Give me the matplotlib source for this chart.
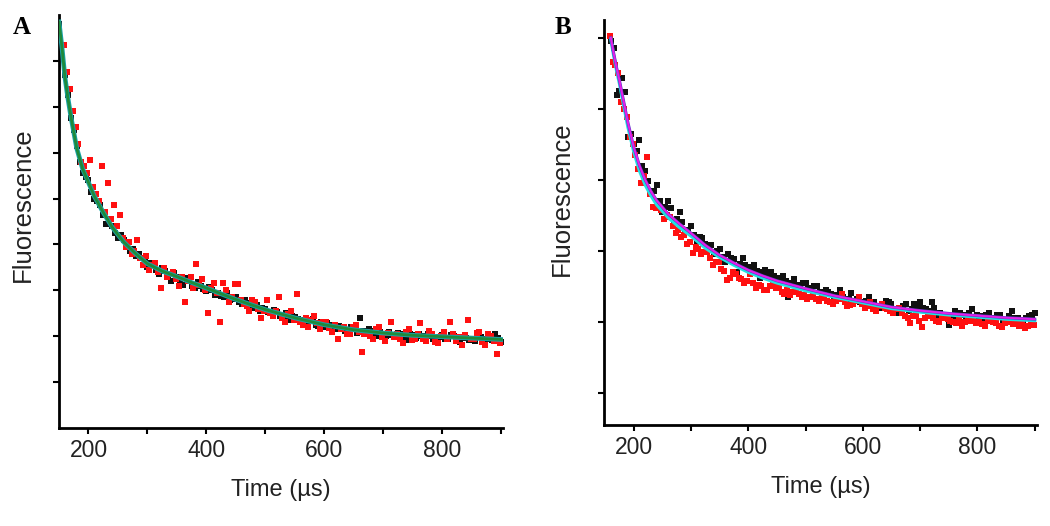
### Fluorescence decay, panels A and B
import numpy as np
import matplotlib
matplotlib.use("Agg")
import matplotlib.pyplot as plt

plt.rcParams['font.family'] = ['Liberation Sans', 'DejaVu Sans']

## Panel A data (time in us, fluorescence in arb. units)
a_black_t = list(range(150, 901, 5))
a_black_y = [8.80, 8.35, 7.70, 7.25, 6.75, 6.50, 6.15, 5.80, 5.55, 5.48,
             5.40, 5.15, 5.00, 4.95, 4.85, 4.65, 4.45, 4.52, 4.40, 4.25,
             4.15, 4.20, 4.10, 3.95, 3.85, 3.90, 3.75, 3.80, 3.70, 3.62,
             3.50, 3.60, 3.55, 3.45, 3.35, 3.48, 3.42, 3.30, 3.20, 3.38,
             3.30, 3.22, 3.12, 3.28, 3.20, 3.10, 3.05, 3.18, 3.10, 3.02,
             2.98, 3.08, 3.00, 2.90, 2.95, 2.88, 2.85, 2.95, 2.78, 2.82,
             2.85, 2.75, 2.70, 2.80, 2.72, 2.65, 2.62, 2.68, 2.55, 2.62,
             2.60, 2.52, 2.50, 2.58, 2.52, 2.45, 2.45, 2.50, 2.35, 2.44,
             2.42, 2.38, 2.35, 2.30, 2.28, 2.35, 2.38, 2.25, 2.22, 2.30,
             2.20, 2.28, 2.25, 2.18, 2.15, 2.22, 2.18, 2.12, 2.10, 2.20,
             2.15, 2.08, 2.40, 2.12, 2.08, 2.15, 2.12, 2.05, 2.00, 2.10,
             2.05, 2.00, 2.10, 2.02, 1.98, 2.08, 2.05, 1.95, 1.92, 2.04,
             2.02, 1.96, 2.05, 2.00, 1.95, 2.05, 2.00, 1.93, 1.90, 1.98,
             2.02, 1.94, 1.95, 2.03, 2.00, 1.92, 1.88, 1.98, 1.97, 1.92,
             1.95, 1.90, 2.02, 1.98, 1.90, 1.95, 1.98, 1.92, 2.05, 1.96,
             1.88]
a_red_t = list(range(153, 900, 5))
a_red_y = [8.30, 8.35, 7.75, 7.40, 6.90, 6.55, 6.20, 5.80, 5.70, 5.55,
           5.85, 5.25, 5.10, 4.95, 5.70, 4.70, 5.35, 4.55, 4.85, 4.40,
           4.65, 4.15, 3.95, 4.05, 3.80, 3.85, 4.10, 3.70, 3.55, 3.75,
           3.45, 3.55, 3.60, 3.40, 3.05, 3.48, 3.30, 3.35, 3.40, 3.25,
           3.10, 3.30, 2.75, 3.20, 3.30, 3.05, 3.58, 3.12, 3.25, 3.00,
           2.50, 3.05, 3.15, 2.95, 2.30, 3.15, 3.00, 2.75, 2.85, 3.13,
           3.13, 2.80, 2.70, 2.65, 2.55, 2.80, 2.75, 2.60, 2.40, 2.55,
           2.78, 2.50, 2.45, 2.55, 2.85, 2.40, 2.30, 2.48, 2.55, 2.35,
           2.93, 2.30, 2.25, 2.40, 2.20, 2.35, 2.45, 2.28, 2.15, 2.30,
           2.30, 2.18, 2.10, 2.25, 1.95, 2.15, 2.20, 2.05, 2.05, 2.20,
           2.25, 2.10, 1.65, 2.05, 2.10, 2.00, 1.95, 2.15, 2.20, 1.98,
           1.90, 2.08, 2.30, 1.98, 2.05, 1.95, 1.85, 2.10, 2.15, 1.92,
           1.95, 2.05, 2.28, 1.95, 1.90, 2.12, 2.05, 1.88, 1.85, 2.00,
           2.10, 1.95, 2.30, 2.05, 1.90, 1.98, 1.80, 2.02, 2.35, 1.95,
           1.95, 2.08, 2.10, 1.88, 1.82, 2.05, 2.00, 1.90, 1.62, 1.85]
a_fit_t = [150, 155, 160, 165, 170, 180, 190, 200, 210, 225, 240, 260, 280,
           300, 325, 350, 375, 400, 450, 500, 550, 600, 650, 700, 750, 800,
           850, 900]
a_fit_y = [8.85, 8.30, 7.65, 7.20, 6.80, 6.10, 5.65, 5.35, 5.05, 4.70, 4.38,
           4.05, 3.80, 3.58, 3.42, 3.30, 3.17, 3.05, 2.80, 2.58, 2.40, 2.25,
           2.14, 2.07, 2.02, 1.99, 1.96, 1.93]

## Panel B data
b_black_t = list(range(160, 901, 5))
b_black_y = [5.95, 5.85, 5.20, 5.25, 5.44, 5.24, 4.60, 4.65, 4.50, 4.40,
             4.56, 4.20, 4.12, 3.98, 3.80, 3.85, 3.93, 3.70, 3.55, 3.62,
             3.70, 3.60, 3.42, 3.45, 3.55, 3.40, 3.28, 3.30, 3.35, 3.22,
             3.12, 3.20, 3.18, 3.10, 3.05, 3.08, 2.95, 3.00, 3.02, 2.92,
             2.85, 2.95, 2.90, 2.88, 2.70, 2.82, 2.90, 2.80, 2.78, 2.75,
             2.80, 2.72, 2.62, 2.70, 2.73, 2.68, 2.70, 2.65, 2.62, 2.60,
             2.65, 2.58, 2.35, 2.55, 2.60, 2.52, 2.52, 2.55, 2.55, 2.48,
             2.45, 2.50, 2.50, 2.42, 2.38, 2.45, 2.42, 2.40, 2.35, 2.38,
             2.45, 2.35, 2.30, 2.33, 2.41, 2.30, 2.32, 2.28, 2.25, 2.30,
             2.35, 2.25, 2.28, 2.22, 2.20, 2.25, 2.30, 2.28, 2.25, 2.18,
             2.12, 2.20, 2.22, 2.25, 2.15, 2.18, 2.25, 2.22, 2.28, 2.20,
             2.18, 2.15, 2.28, 2.20, 2.10, 2.12, 2.05, 2.10, 1.96, 2.08,
             2.15, 2.08, 2.12, 2.10, 2.05, 2.12, 2.18, 2.05, 2.10, 2.08,
             2.02, 2.10, 2.12, 2.05, 2.05, 2.10, 2.10, 2.03, 2.00, 2.08,
             2.15, 2.05, 2.05, 2.00, 1.98, 2.06, 2.08, 2.10, 2.13]
b_red_t = list(range(158, 900, 5))
b_red_y = [6.02, 5.66, 5.62, 5.50, 5.10, 5.00, 4.89, 4.60, 4.50, 4.35,
           4.15, 3.95, 4.05, 4.32, 3.80, 3.62, 3.60, 3.62, 3.58, 3.45,
           3.50, 3.48, 3.35, 3.25, 3.30, 3.20, 3.22, 3.10, 3.12, 2.97,
           3.05, 3.02, 2.95, 2.98, 2.98, 2.90, 2.80, 2.85, 2.85, 2.75,
           2.72, 2.59, 2.62, 2.70, 2.68, 2.62, 2.60, 2.55, 2.58, 2.68,
           2.55, 2.48, 2.52, 2.50, 2.45, 2.45, 2.50, 2.55, 2.48, 2.50,
           2.42, 2.40, 2.45, 2.38, 2.42, 2.45, 2.40, 2.35, 2.38, 2.32,
           2.35, 2.40, 2.32, 2.30, 2.34, 2.35, 2.30, 2.28, 2.25, 2.30,
           2.32, 2.40, 2.28, 2.22, 2.24, 2.25, 2.30, 2.35, 2.26, 2.20,
           2.22, 2.28, 2.18, 2.15, 2.22, 2.25, 2.20, 2.18, 2.15, 2.12,
           2.18, 2.20, 2.12, 2.08, 2.05, 1.98, 2.08, 2.10, 2.02, 1.93,
           2.05, 2.12, 2.08, 2.05, 2.02, 2.00, 2.05, 2.08, 2.04, 2.02,
           2.00, 1.98, 2.03, 1.95, 2.00, 2.05, 2.02, 2.02, 1.98, 2.00,
           1.97, 1.95, 2.02, 2.03, 2.00, 1.98, 1.95, 1.93, 1.98, 2.00,
           2.02, 1.97, 2.02, 1.95, 1.98, 1.91, 1.95, 1.98, 1.96]
b_fit_t = [160, 165, 170, 175, 180, 190, 200, 210, 220, 230, 240, 260, 280,
           300, 325, 350, 375, 400, 425, 450, 500, 550, 600, 650, 700, 750,
           800, 850, 900]
b_fit_y = [6.00, 5.78, 5.58, 5.40, 5.20, 4.80, 4.46, 4.20, 4.00, 3.84, 3.71,
           3.52, 3.38, 3.25, 3.08, 2.94, 2.83, 2.73, 2.65, 2.58, 2.47, 2.37,
           2.29, 2.21, 2.16, 2.12, 2.09, 2.06, 2.04]
b_fit2_y = [5.98, 5.75, 5.54, 5.36, 5.15, 4.74, 4.40, 4.13, 3.93, 3.78, 3.65,
            3.47, 3.33, 3.21, 3.04, 2.91, 2.80, 2.70, 2.62, 2.55, 2.44, 2.35,
            2.27, 2.19, 2.14, 2.10, 2.07, 2.04, 2.02]

x_ticks = [200, 300, 400, 500, 600, 700, 800, 900]
x_labels = ['200', '', '400', '', '600', '', '800', '']


def style_axes(ax, yticks):
    for s in ['top', 'right']:
        ax.spines[s].set_visible(False)
    for s in ['left', 'bottom']:
        ax.spines[s].set_linewidth(2.0)
    ax.set_xticks(x_ticks)
    ax.set_xticklabels(x_labels, fontsize=16.5, color='#222222')
    ax.set_yticks(yticks)
    ax.set_yticklabels([])
    ax.tick_params(axis='both', direction='out', length=4, width=1.5, pad=4)
    ax.set_xlabel('Time (\u00b5s)', fontsize=17, color='#222222', labelpad=12)
    ax.set_ylabel('Fluorescence', fontsize=18.5, color='#222222')


fig = plt.figure(figsize=(10.5, 5.26), dpi=100)

### Panel A
axA = fig.add_axes([0.0562, 0.1863, 0.4229, 0.785])
axA.plot(a_black_t, a_black_y, 's', color='#111111', ms=3.7, mew=0, zorder=2)
axA.plot(a_red_t, a_red_y, 's', color='#ff1010', ms=3.7, mew=0, zorder=2)
axA.plot(a_fit_t, a_fit_y, '-', color='#19a3a8', lw=3.4, zorder=3)
axA.plot(a_fit_t, a_fit_y, '-', color='#1f8a3a', lw=2.0, zorder=4)
axA.set_xlim(150, 903)
axA.set_ylim(0, 9)
style_axes(axA, [1, 2, 3, 4, 5, 6, 7, 8])
axA.yaxis.set_label_coords(-0.055, 0.54)
fig.text(0.012, 0.935, 'A', fontsize=18, fontweight='bold', family='Liberation Serif')

### Panel B
axB = fig.add_axes([0.5752, 0.192, 0.4124, 0.770])
axB.plot(b_black_t, b_black_y, 's', color='#111111', ms=3.7, mew=0, zorder=2)
axB.plot(b_red_t, b_red_y, 's', color='#ff1010', ms=3.7, mew=0, zorder=2)
axB.plot(b_fit_t, b_fit2_y, '-', color='#22e0e0', lw=2.4, zorder=3)
axB.plot(b_fit_t, b_fit_y, '-', color='#5a3cc8', lw=2.2, zorder=4)
axB.plot(b_fit_t, b_fit_y, '-', color='#e81ee8', lw=1.4, zorder=5)
axB.set_xlim(148, 904)
axB.set_ylim(0.55, 6.25)
style_axes(axB, [1, 2, 3, 4, 5, 6])
axB.yaxis.set_label_coords(-0.07, 0.56)
fig.text(0.528, 0.935, 'B', fontsize=18, fontweight='bold', family='Liberation Serif')

fig.savefig('out.png', dpi=100)
